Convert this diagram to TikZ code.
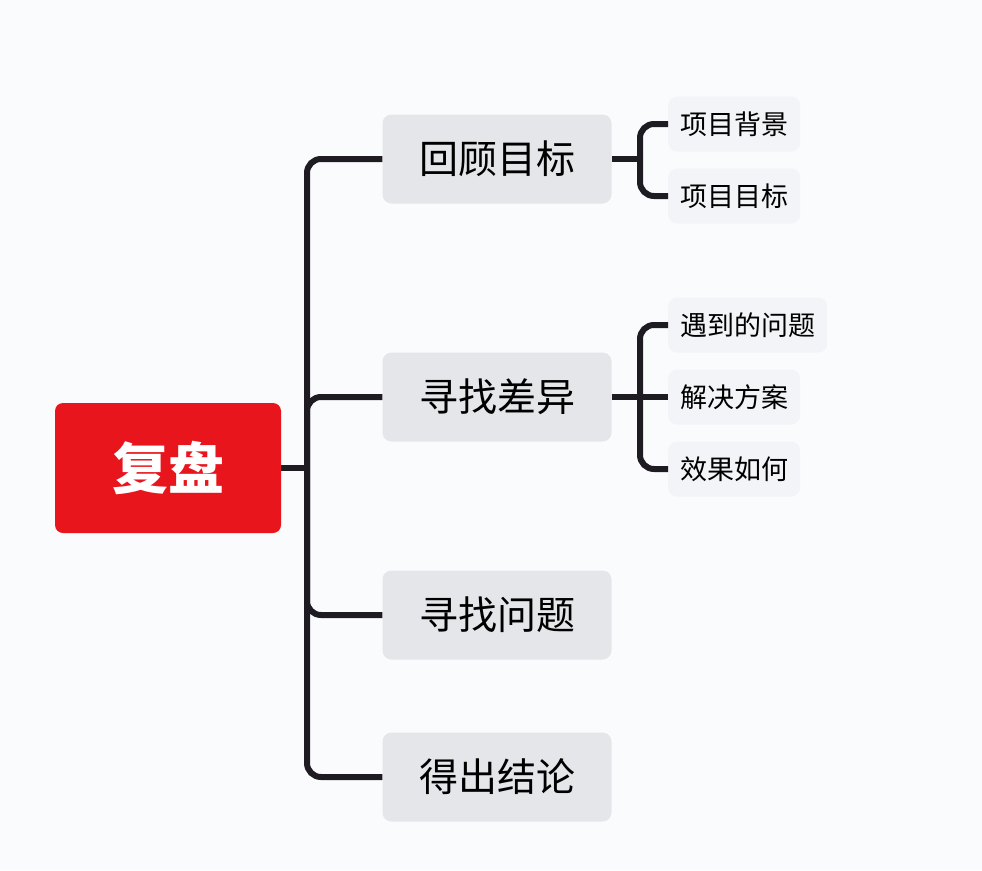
\documentclass[tikz,border=0pt]{standalone}
\usepackage{fontspec}
\newfontfamily\cjk{Noto Sans CJK SC}
\definecolor{bgcol}{RGB}{250,251,253}
\definecolor{rootred}{RGB}{232,22,28}
\definecolor{boxgray}{RGB}{229,230,233}
\definecolor{subgray}{RGB}{243,244,247}
\definecolor{linecol}{RGB}{30,28,34}
\tikzset{
  rootbox/.style={fill=rootred, rounded corners=8pt, minimum width=226pt, minimum height=130pt,
    text=white, font=\cjk\bfseries\fontsize{56}{60}\selectfont},
  topicbox/.style={fill=boxgray, rounded corners=9pt, minimum width=229pt, minimum height=89pt,
    font=\cjk\fontsize{39}{42}\selectfont},
  subbox/.style={fill=subgray, rounded corners=9pt, anchor=west, minimum height=55pt, inner xsep=12pt,
    font=\cjk\fontsize{27}{30}\selectfont},
  conn/.style={draw=linecol, line width=6pt, rounded corners=14pt}
}
\begin{document}
\begin{tikzpicture}[x=1pt,y=-1pt]
    \fill[bgcol] (0,0) rectangle (982,870);

    \node[rootbox] (root) at (168,468) {复盘};

    \node[topicbox] (goal) at (497,159) {回顾目标};
    \node[topicbox] (diff) at (497,397) {寻找差异};
    \node[topicbox] (prob) at (497,615) {寻找问题};
    \node[topicbox] (concl) at (497,777) {得出结论};

    \node[subbox] (bg) at (668,124) {项目背景};
    \node[subbox] (aim) at (668,196) {项目目标};
    \node[subbox] (met) at (668,325) {遇到的问题};
    \node[subbox] (sol) at (668,397) {解决方案};
    \node[subbox] (eff) at (668,469) {效果如何};

    \coordinate (trunk) at (307,468);
    \draw[conn] (root.east) -- (trunk);
    \draw[conn] (trunk) |- (goal.west);
    \draw[conn] (trunk) |- (diff.west);
    \draw[conn] (trunk) |- (prob.west);
    \draw[conn] (trunk) |- (concl.west);

    \coordinate (goaljoin) at (640,159);
    \draw[conn] (goal.east) -- (goaljoin);
    \draw[conn] (goaljoin) |- (bg.west);
    \draw[conn] (goaljoin) |- (aim.west);

    \coordinate (diffjoin) at (640,397);
    \draw[conn] (diff.east) -- (diffjoin);
    \draw[conn] (diffjoin) |- (met.west);
    \draw[conn] (diffjoin) -- (sol.west);
    \draw[conn] (diffjoin) |- (eff.west);
\end{tikzpicture}
\end{document}
